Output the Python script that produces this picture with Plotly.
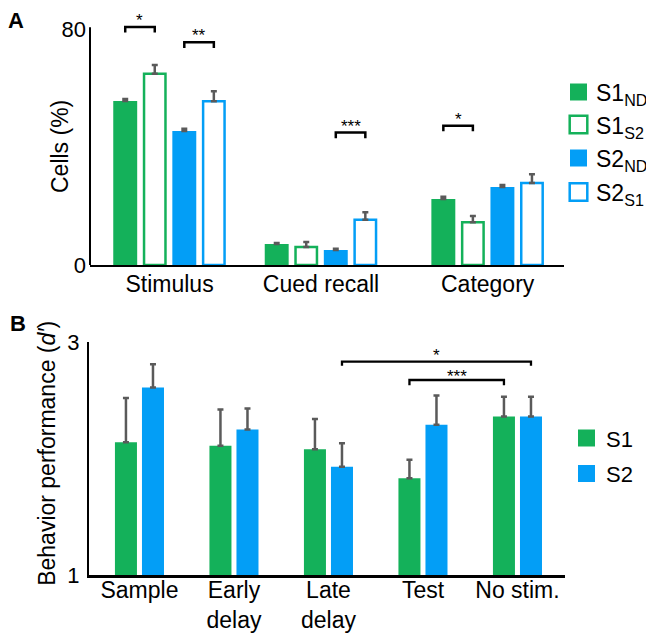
import plotly.graph_objects as go

# ------------------------------------------------------------------ data
A_CATEGORIES = ["Stimulus", "Cued recall", "Category"]
A_SERIES = ["S1<sub>ND</sub>", "S1<sub>S2</sub>", "S2<sub>ND</sub>", "S2<sub>S1</sub>"]
A_S1_ND = [55.6, 7.1, 22.4]
A_S1_ND_ERR = [0.7, 0.4, 0.7]
A_S1_S2 = [64.8, 6.1, 14.5]
A_S1_S2_ERR = [3.0, 1.7, 2.1]
A_S2_ND = [45.4, 5.1, 26.4]
A_S2_ND_ERR = [0.8, 0.4, 0.7]
A_S2_S1 = [55.5, 15.3, 27.8]
A_S2_S1_ERR = [3.4, 2.6, 3.0]
A_YTICKS = [0, 80]
# significance pairs: (category, series a, series b, label)
A_SIG = [(0, 0, 1, "*"), (0, 2, 3, "**"), (1, 2, 3, "***"), (2, 0, 1, "*")]

B_CATEGORIES = ["Sample", "Early<br>delay", "Late<br>delay", "Test", "No stim."]
B_SERIES = ["S1", "S2"]
B_S1 = [2.14, 2.11, 2.08, 1.83, 2.36]
B_S1_ERR = [0.38, 0.31, 0.26, 0.16, 0.17]
B_S2 = [2.61, 2.25, 1.93, 2.29, 2.36]
B_S2_ERR = [0.20, 0.18, 0.20, 0.25, 0.17]
B_YTICKS = [1, 3]
# significance: ((category, series), (category, series), label)
B_SIG = [((2, 1), (4, 1), "*"), ((3, 0), (4, 0), "***")]

# ------------------------------------------------------------------ style
W, H = 646, 634
GREEN = "#14B15A"
BLUE = "#039EF6"
GRAY = "#5a5a5a"
FONT = "Liberation Sans, Arial, Helvetica, sans-serif"


def px_x(p):
    return p / W


def px_y(p):
    return 1 - p / H


# panel A geometry (numeric x axis, uneven group spacing)
A_POS = [0, 1, 2.1]
A_XRANGE = [-0.525, 2.604]
A_YRANGE = [0, 88]
A_UNIT = 151.5          # px per x unit
A_W = 0.158
A_STEP = 0.195
A_OFF = [(-1.5 + i) * A_STEP for i in range(4)]
A_SIG_Y = [80.7, 75.5, 44.9, 47.2]

# panel B geometry
B_XRANGE = [-0.534, 4.503]
B_YRANGE = [1, 3]
B_UNIT = 94.5
B_W = 0.233
B_OFF = [-0.143, 0.143]
B_SIG_Y = [2.831, 2.674]

fig = go.Figure()

a_vals = [A_S1_ND, A_S1_S2, A_S2_ND, A_S2_S1]
a_errs = [A_S1_ND_ERR, A_S1_S2_ERR, A_S2_ND_ERR, A_S2_S1_ERR]
a_cols = [GREEN, GREEN, BLUE, BLUE]
a_hollow = [False, True, False, True]
HOLLOW_LW = 2.5

for i in range(4):
    col = a_cols[i]
    if a_hollow[i]:
        w = A_W - HOLLOW_LW / A_UNIT
        marker = dict(color="white", line=dict(color=col, width=HOLLOW_LW))
    else:
        w = A_W
        marker = dict(color=col, line=dict(width=0))
    fig.add_trace(go.Bar(
        x=A_POS, y=a_vals[i], name=A_SERIES[i],
        width=w, offset=A_OFF[i] - w / 2,
        marker=marker,
        error_y=dict(type="data", symmetric=False, array=a_errs[i],
                     arrayminus=[0] * len(a_errs[i]),
                     color=GRAY, thickness=2.5, width=3),
        xaxis="x", yaxis="y", showlegend=False,
    ))

b_vals = [B_S1, B_S2]
b_errs = [B_S1_ERR, B_S2_ERR]
b_cols = [GREEN, BLUE]
for i in range(2):
    fig.add_trace(go.Bar(
        x=B_CATEGORIES, y=b_vals[i], name=B_SERIES[i],
        width=B_W, offset=B_OFF[i] - B_W / 2,
        marker=dict(color=b_cols[i], line=dict(width=0)),
        error_y=dict(type="data", symmetric=False, array=b_errs[i],
                     arrayminus=[0] * len(b_errs[i]),
                     color=GRAY, thickness=2.5, width=3),
        xaxis="x2", yaxis="y2", showlegend=False,
    ))

shapes = []
annotations = []

# y axis line of panel A (stops at 80 like the original)
shapes.append(dict(type="line", xref="x domain", yref="y", x0=0, x1=0,
                   y0=0, y1=80.6, line=dict(color="black", width=2)))

# significance brackets A
A_TICK = 1.9
for (cat, sa, sb, lab), yv in zip(A_SIG, A_SIG_Y):
    x0 = A_POS[cat] + A_OFF[sa]
    x1 = A_POS[cat] + A_OFF[sb]
    shapes.append(dict(type="path", xref="x", yref="y",
                       path=f"M{x0},{yv - A_TICK} L{x0},{yv} L{x1},{yv} L{x1},{yv - A_TICK}",
                       line=dict(color="black", width=2.5)))
    annotations.append(dict(xref="x", yref="y", x=(x0 + x1) / 2, y=yv, text=lab,
                            showarrow=False, xanchor="center", yanchor="bottom",
                            yshift=-5, font=dict(size=17, color="black", family=FONT)))

# significance brackets B
B_TICKS = [0.035, 0.045]
for ((ca, sa), (cb, sb), lab), yv, tk in zip(B_SIG, B_SIG_Y, B_TICKS):
    x0 = ca + B_OFF[sa]
    x1 = cb + B_OFF[sb]
    shapes.append(dict(type="path", xref="x2", yref="y2",
                       path=f"M{x0},{yv - tk} L{x0},{yv} L{x1},{yv} L{x1},{yv - tk}",
                       line=dict(color="black", width=2.3)))
    annotations.append(dict(xref="x2", yref="y2", x=(x0 + x1) / 2, y=yv, text=lab,
                            showarrow=False, xanchor="center", yanchor="bottom",
                            yshift=-5 if lab == "*" else -8,
                            font=dict(size=17, color="black", family=FONT)))

# manual legends
A_LEG_Y = [92, 124.5, 158, 192]
for i in range(4):
    cy = A_LEG_Y[i]
    if a_hollow[i]:
        shapes.append(dict(type="rect", xref="paper", yref="paper",
                           x0=px_x(569.7), x1=px_x(587.3), y0=px_y(cy + 8.8), y1=px_y(cy - 8.8),
                           fillcolor="white", line=dict(color=a_cols[i], width=2.5)))
    else:
        shapes.append(dict(type="rect", xref="paper", yref="paper",
                           x0=px_x(570), x1=px_x(587), y0=px_y(cy + 8.5), y1=px_y(cy - 8.5),
                           fillcolor=a_cols[i], line=dict(width=0)))
    annotations.append(dict(xref="paper", yref="paper", x=px_x(594), y=px_y(cy + 3),
                            text=A_SERIES[i], showarrow=False, xanchor="left",
                            yanchor="middle", font=dict(size=23, color="black", family=FONT)))

B_LEG_Y = [438, 473.5]
for i in range(2):
    cy = B_LEG_Y[i]
    shapes.append(dict(type="rect", xref="paper", yref="paper",
                       x0=px_x(578), x1=px_x(595), y0=px_y(cy + 8.5), y1=px_y(cy - 8.5),
                       fillcolor=b_cols[i], line=dict(width=0)))
    annotations.append(dict(xref="paper", yref="paper", x=px_x(604), y=px_y(cy + 1),
                            text=B_SERIES[i], showarrow=False, xanchor="left",
                            yanchor="middle", font=dict(size=22, color="black", family=FONT)))

# panel letters
annotations.append(dict(xref="paper", yref="paper", x=px_x(16), y=px_y(20), text="<b>A</b>",
                        showarrow=False, xanchor="center", yanchor="middle",
                        font=dict(size=22, color="black", family=FONT)))
annotations.append(dict(xref="paper", yref="paper", x=px_x(18), y=px_y(323), text="<b>B</b>",
                        showarrow=False, xanchor="center", yanchor="middle",
                        font=dict(size=22, color="black", family=FONT)))

# y-axis titles
annotations.append(dict(xref="paper", yref="y", x=px_x(60), y=40, text="Cells (%)",
                        textangle=-90, showarrow=False, xanchor="center", yanchor="middle",
                        font=dict(size=23, color="black", family=FONT)))
annotations.append(dict(xref="paper", yref="y2", x=px_x(47), y=2.04,
                        text="Behavior performance (<i>d′</i>)",
                        textangle=-90, showarrow=False, xanchor="center", yanchor="middle",
                        font=dict(size=23, color="black", family=FONT)))

axis_common = dict(showgrid=False, zeroline=False, ticks="", automargin=False,
                   color="black")

fig.update_layout(
    width=W, height=H,
    margin=dict(l=0, r=0, t=0, b=0),
    paper_bgcolor="white", plot_bgcolor="white",
    barmode="overlay",
    font=dict(family=FONT, color="black"),
    xaxis=dict(domain=[px_x(90), px_x(564)], range=A_XRANGE, anchor="y",
               tickmode="array", tickvals=A_POS, ticktext=A_CATEGORIES,
               tickfont=dict(size=23), showline=True, linecolor="black", linewidth=2,
               ticklabelstandoff=-3, **axis_common),
    yaxis=dict(domain=[px_y(265), px_y(265 - 88 * 2.95)], range=A_YRANGE, anchor="x",
               tickmode="array", tickvals=A_YTICKS, tickfont=dict(size=22),
               ticklabelstandoff=3, showline=False, **axis_common),
    xaxis2=dict(domain=[px_x(89), px_x(565)], range=B_XRANGE, anchor="y2",
                type="category", categoryorder="array", categoryarray=B_CATEGORIES,
                tickfont=dict(size=23), showline=True, linecolor="black", linewidth=2.5,
                ticklabelstandoff=-7, **axis_common),
    yaxis2=dict(domain=[px_y(575), px_y(342)], range=B_YRANGE, anchor="x2",
                tickmode="array", tickvals=B_YTICKS, tickfont=dict(size=22),
                ticklabelstandoff=3, showline=True, linecolor="black", linewidth=2,
                **axis_common),
    shapes=shapes,
    annotations=annotations,
)

fig.write_html("out.html")
